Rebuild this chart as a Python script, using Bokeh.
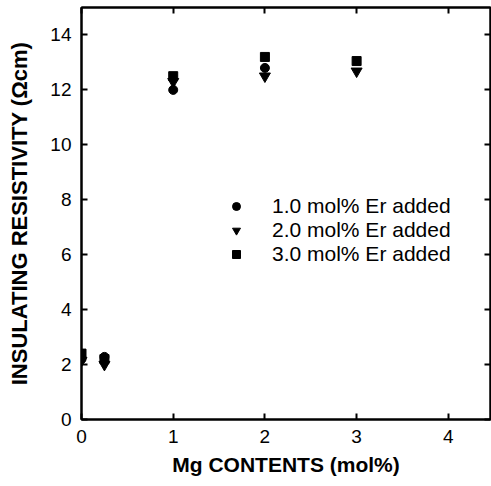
from bokeh.plotting import figure
from bokeh.models import (LinearAxis, FixedTicker, Legend, LegendItem, Range1d)
from bokeh.embed import file_html
from bokeh.resources import INLINE

# Data
x_er1 = [0, 0.25, 1, 2]
y_er1 = [2.2, 2.28, 12.0, 12.8]
x_er2 = [0, 0.25, 1, 2, 3]
y_er2 = [2.15, 2.0, 12.3, 12.5, 12.68]
x_er3 = [0, 0.25, 1, 2, 3]
y_er3 = [2.4, 2.2, 12.5, 13.2, 13.05]
labels = ["1.0 mol% Er added", "2.0 mol% Er added", "3.0 mol% Er added"]
x_ticks = [0, 1, 2, 3, 4]
y_ticks = [0, 2, 4, 6, 8, 10, 12, 14]

FONT = "Liberation Sans"

p = figure(width=491, height=486, output_backend="svg", toolbar_location=None,
           x_range=Range1d(0, 4.46), y_range=Range1d(0, 15.0),
           min_border_left=81, min_border_right=1, min_border_top=7, min_border_bottom=67)
p.grid.visible = False
p.background_fill_color = "white"
p.outline_line_color = "black"
p.outline_line_width = 2

def style_axis(ax, show_labels=True):
    ax.axis_line_width = 2
    ax.axis_line_color = "black"
    ax.major_tick_in = 6
    ax.major_tick_out = 0
    ax.major_tick_line_width = 2
    ax.minor_tick_line_color = None
    ax.major_label_text_font = FONT
    ax.major_label_text_font_size = "19px"
    ax.major_label_text_color = "black"
    ax.axis_label_text_font = FONT
    ax.axis_label_text_font_style = "bold"
    ax.axis_label_text_font_size = "21px"
    ax.axis_label_text_color = "black"
    if not show_labels:
        ax.major_label_standoff = 0
        ax.major_label_overrides = {t: "" for t in ax.ticker.ticks}

xa = p.xaxis[0]
ya = p.yaxis[0]
xa.ticker = FixedTicker(ticks=x_ticks)
ya.ticker = FixedTicker(ticks=y_ticks)
style_axis(xa)
style_axis(ya)
xa.axis_label = "Mg CONTENTS (mol%)"
ya.axis_label = "INSULATING RESISTIVITY (\u03a9cm)"
ya.axis_label_text_font_size = "22px"
xa.major_label_standoff = 10
ya.major_label_standoff = 10
xa.major_label_text_line_height = 1.0
xa.axis_label_text_line_height = 1.0
xa.axis_label_standoff = 7
ya.axis_label_standoff = 15

top = LinearAxis(ticker=FixedTicker(ticks=x_ticks))
style_axis(top, False)
p.add_layout(top, "above")
right = LinearAxis(ticker=FixedTicker(ticks=y_ticks))
style_axis(right, False)
p.add_layout(right, "right")

r1 = p.scatter(x_er1, y_er1, marker="circle", size=9, color="black")
r2 = p.scatter(x_er2, y_er2, marker="inverted_triangle", size=11, color="black")
r3 = p.scatter(x_er3, y_er3, marker="square", size=9, color="black")

legend = Legend(items=[LegendItem(label=labels[0], renderers=[r1]),
                       LegendItem(label=labels[1], renderers=[r2]),
                       LegendItem(label=labels[2], renderers=[r3])],
                location=(145, 153), padding=0, margin=0, spacing=0,
                glyph_height=24, glyph_width=20, label_height=24,
                label_standoff=26, border_line_color=None,
                background_fill_alpha=0,
                label_text_font=FONT, label_text_font_size="21px",
                label_text_color="black")
p.add_layout(legend, "center")

open("out.html", "w").write(file_html(p, INLINE))
